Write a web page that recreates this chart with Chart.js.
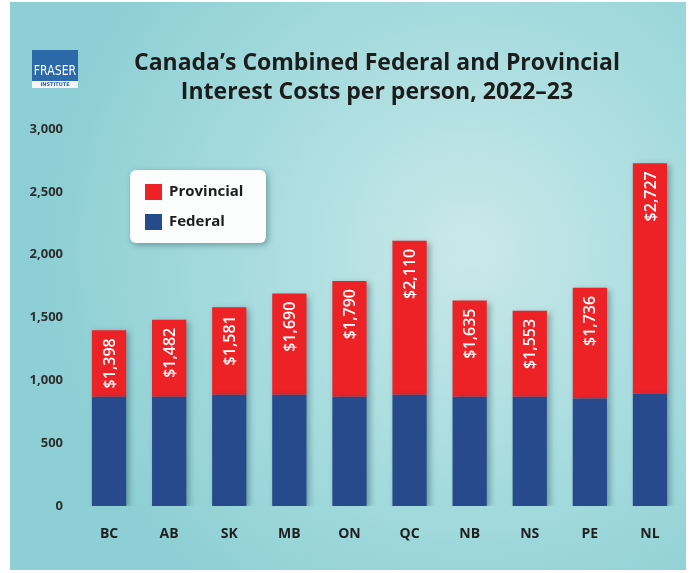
<!DOCTYPE html>
<html>
<head>
<meta charset="utf-8">
<script src="https://cdn.jsdelivr.net/npm/chart.js@4.4.0/dist/chart.umd.min.js"></script>
<style>
  html, body { margin: 0; padding: 0; background: #ffffff; }
  #wrap { width: 692px; height: 573px; }
</style>
</head>
<body>
<div id="wrap"><canvas id="chart" width="692" height="573"></canvas></div>
<script>
// Interest costs per person, 2022-23 (dollars)
const provinces = ['BC', 'AB', 'SK', 'MB', 'ON', 'QC', 'NB', 'NS', 'PE', 'NL'];
const totals = [1398, 1482, 1581, 1690, 1790, 2110, 1635, 1553, 1736, 2727];
const federal = [870, 870, 885, 885, 870, 885, 870, 870, 855, 895];
const provincial = totals.map((t, i) => t - federal[i]);
const yTicks = [0, 500, 1000, 1500, 2000, 2500, 3000];

const RED = '#ec2227';
const BLUE = '#274a8d';

const fmt = v => v.toLocaleString('en-US');

// teal panel, logo and title behind the chart
const backdrop = {
    id: 'backdrop',
    beforeDraw(chart) {
        const ctx = chart.ctx;
        ctx.save();
        ctx.fillStyle = '#ffffff';
        ctx.fillRect(0, 0, chart.width, chart.height);
        const g = ctx.createRadialGradient(470, 250, 10, 470, 250, 430);
        g.addColorStop(0, '#c8e8e9');
        g.addColorStop(0.5, '#a8dcdf');
        g.addColorStop(1, '#8dcfd4');
        ctx.fillStyle = g;
        ctx.fillRect(10, 2, 676, 568);

        // logo
        ctx.fillStyle = '#2c69a8';
        ctx.fillRect(32, 50, 46, 31);
        ctx.fillStyle = '#f4f6fa';
        ctx.fillRect(32, 81, 46, 7);
        ctx.textAlign = 'center';
        ctx.textBaseline = 'middle';
        ctx.save();
        ctx.translate(55, 71);
        ctx.scale(0.78, 1);
        ctx.fillStyle = '#ffffff';
        ctx.font = '14px "DejaVu Sans", sans-serif';
        ctx.fillText('FRASER', 0, 0);
        ctx.restore();
        ctx.fillStyle = '#2c69a8';
        ctx.font = 'bold 5px "DejaVu Sans", sans-serif';
        ctx.fillText('INSTITUTE', 55, 85);

        // title
        ctx.fillStyle = '#1c1c1c';
        ctx.font = 'bold 23px "Open Sans", sans-serif';
        ctx.fillText('Canada\u2019s Combined Federal and Provincial', 377, 63);
        ctx.fillText('Interest Costs per person, 2022\u201323', 377, 92);
        ctx.restore();
    },
    beforeDatasetsDraw(chart) {
        const ctx = chart.ctx;
        ctx.save();
        ctx.shadowColor = 'rgba(0, 40, 50, 0.35)';
        ctx.shadowBlur = 6;
        ctx.shadowOffsetX = 3;
        ctx.shadowOffsetY = 2;
    },
    afterDatasetsDraw(chart) {
        chart.ctx.restore();
    }
};

// white totals written up the red segment, plus the boxed legend
const overlay = {
    id: 'overlay',
    afterDatasetsDraw(chart) {
        const ctx = chart.ctx;
        const meta = chart.getDatasetMeta(1);
        ctx.save();
        ctx.fillStyle = '#ffffff';
        ctx.font = '600 16px "Open Sans", sans-serif';
        ctx.textAlign = 'right';
        ctx.textBaseline = 'middle';
        meta.data.forEach((bar, i) => {
            ctx.save();
            ctx.translate(bar.x + 1, bar.y + 8);
            ctx.rotate(-Math.PI / 2);
            ctx.fillText('$' + fmt(totals[i]), 0, 0);
            ctx.restore();
        });

        // legend box
        const bx = 130, by = 170, bw = 136, bh = 73, r = 6;
        ctx.save();
        ctx.shadowColor = 'rgba(0, 40, 50, 0.35)';
        ctx.shadowBlur = 6;
        ctx.shadowOffsetX = 2;
        ctx.shadowOffsetY = 2;
        ctx.fillStyle = '#fbfcfc';
        ctx.beginPath();
        ctx.roundRect(bx, by, bw, bh, r);
        ctx.fill();
        ctx.restore();

        const items = [chart.data.datasets[1], chart.data.datasets[0]];
        ctx.textAlign = 'left';
        ctx.font = 'bold 15px "Open Sans", sans-serif';
        items.forEach((ds, k) => {
            const y = by + 22 + k * 30;
            ctx.fillStyle = ds.backgroundColor;
            ctx.fillRect(bx + 15, y - 8, 17, 16);
            ctx.fillStyle = '#1c1c1c';
            ctx.fillText(ds.label, bx + 39, y);
        });
        ctx.restore();
    }
};

new Chart(document.getElementById('chart'), {
    type: 'bar',
    data: {
        labels: provinces,
        datasets: [
            { label: 'Federal', data: federal, backgroundColor: BLUE },
            { label: 'Provincial', data: provincial, backgroundColor: RED }
        ]
    },
    options: {
        responsive: false,
        animation: false,
        layout: { padding: { left: 10, right: 12, top: 129, bottom: 0 } },
        datasets: {
            bar: { barPercentage: 0.57, categoryPercentage: 1 }
        },
        scales: {
            x: {
                stacked: true,
                grid: { display: false },
                border: { display: false },
                ticks: {
                    color: '#1f1f1f',
                    font: { family: '"Open Sans", sans-serif', size: 14, weight: 'bold' },
                    padding: 12
                },
                afterFit(scale) { scale.height = 67; }
            },
            y: {
                stacked: true,
                min: 0,
                max: 3000,
                grid: { display: false },
                border: { display: false },
                afterBuildTicks(scale) { scale.ticks = yTicks.map(v => ({ value: v })); },
                ticks: {
                    color: '#2e2e2e',
                    font: { family: '"Open Sans", sans-serif', size: 13, weight: 'bold' },
                    padding: 8,
                    callback: v => fmt(v)
                },
                afterFit(scale) { scale.width = 69; }
            }
        },
        plugins: {
            legend: { display: false },
            tooltip: { enabled: false },
            title: { display: false }
        }
    },
    plugins: [backdrop, overlay]
});
</script>
</body>
</html>
